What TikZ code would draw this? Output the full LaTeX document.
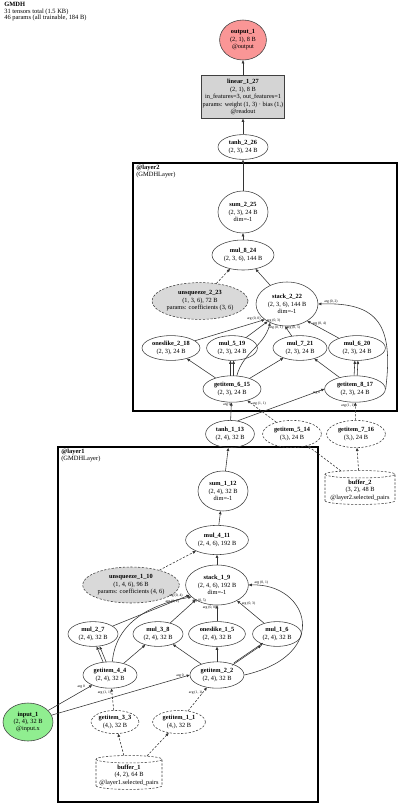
\documentclass[tikz,border=0pt]{standalone}
\usepackage{fontspec}
\setmainfont{Liberation Serif}
\usetikzlibrary{positioning, shapes.geometric, arrows.meta}

\begin{document}
\begin{tikzpicture}[on grid, node distance=1cm,
        >={Triangle[length=2.2pt,width=1.9pt]},
        font=\fontsize{4.5}{5.3}\selectfont,
        op/.style={ellipse, draw=black!75, thin, align=center, inner sep=0.4pt, minimum height=0.62cm},
        sel/.style={op, dash pattern=on 1.6pt off 1.1pt},
        coef/.style={op, dash pattern=on 1.6pt off 1.1pt, fill=black!15},
        buf/.style={cylinder, shape border rotate=90, aspect=0.12, draw=black!75, dash pattern=on 1.6pt off 1.1pt, align=center, inner sep=1pt},
        flow/.style={->, draw=black!80, thin},
        pflow/.style={flow, dash pattern=on 1.6pt off 1.1pt},
        arg/.style={font=\fontsize{2.6}{3}\selectfont, inner sep=0.3pt},
        layerbox/.style={draw, line width=1.5pt},
        caption/.style={anchor=north west, align=left, inner sep=0pt, font=\fontsize{4.6}{4.4}\selectfont}]
        \useasboundingbox (0,0) rectangle (10,-20.2);

        \node[caption] (title) at (0.1,-0.06)
            {\textbf{GMDH}\\31 tensors total (1.5 KB)\\46 params (all trainable, 184 B)};

        % layer boxes
        \draw[layerbox] (3.325,-4.075) rectangle (9.925,-10.275);
        \node[caption] (l2name) at (3.4,-4.13) {\textbf{@layer2}\\(GMDHLayer)};
        \draw[layerbox] (1.45,-11.175) rectangle (7.95,-20.05);
        \node[caption] (l1name) at (1.525,-11.23) {\textbf{@layer1}\\(GMDHLayer)};

        % top of graph
        \node[op, fill={rgb,255:red,250;green,150;blue,150}, minimum width=1.17cm, minimum height=1cm] (out) at (6.075,-1.0)
            {\textbf{output\_1}\\(2, 1), 8 B\\@output};
        \node[rectangle, draw=black!75, fill=black!17, align=center, minimum width=2.02cm, minimum height=1.07cm, inner sep=1pt,
            below=1.425 of out] (lin)
            {\textbf{linear\_1\_27}\\(2, 1), 8 B\\in\_features=3, out\_features=1\\params: weight (1, 3) · bias (1,)\\@readout};
        \node[op, minimum width=1.25cm, below=1.25 of lin] (tanh2) {\textbf{tanh\_2\_26}\\(2, 3), 24 B};

        % layer2
        \node[op, minimum width=1.25cm, minimum height=1.05cm, below=1.625 of tanh2] (sum2) {\textbf{sum\_2\_25}\\(2, 3), 24 B\\dim=-1};
        \node[op, minimum width=1.55cm, minimum height=0.75cm, below=1.075 of sum2] (mul8) {\textbf{mul\_8\_24}\\(2, 3, 6), 144 B};
        \node[coef, minimum width=2.4cm, minimum height=0.92cm, below left=1.15 and 1.075 of mul8] (unsq2)
            {\textbf{unsqueeze\_2\_23}\\(1, 3, 6), 72 B\\params: coefficients (3, 6)};
        \node[op, minimum width=1.55cm, minimum height=1.1cm, below right=1.225 and 1.1 of mul8] (stack2)
            {\textbf{stack\_2\_22}\\(2, 3, 6), 144 B\\dim=-1};
        \node[op, minimum width=1.27cm, below left=1.1 and 1.375 of stack2] (mul5) {\textbf{mul\_5\_19}\\(2, 3), 24 B};
        \node[op, minimum width=1.45cm, left=1.525 of mul5] (ones2) {\textbf{oneslike\_2\_18}\\(2, 3), 24 B};
        \node[op, minimum width=1.35cm, right=1.7 of mul5] (mul7) {\textbf{mul\_7\_21}\\(2, 3), 24 B};
        \node[op, minimum width=1.42cm, right=1.425 of mul7] (mul6) {\textbf{mul\_6\_20}\\(2, 3), 24 B};
        \node[op, minimum width=1.45cm, minimum height=0.66cm, below=1.025 of mul5] (gi6) {\textbf{getitem\_6\_15}\\(2, 3), 24 B};
        \node[op, minimum width=1.52cm, minimum height=0.66cm, right=3.075 of gi6] (gi8) {\textbf{getitem\_8\_17}\\(2, 3), 24 B};

        % between the layers
        \node[op, minimum width=1.22cm, minimum height=0.68cm, below left=1.125 and 0.05 of gi6] (tanh1) {\textbf{tanh\_1\_13}\\(2, 4), 32 B};
        \node[sel, minimum width=1.47cm, minimum height=0.68cm, right=1.55 of tanh1] (gi5) {\textbf{getitem\_5\_14}\\(3,), 24 B};
        \node[sel, minimum width=1.47cm, minimum height=0.68cm, right=1.6 of gi5] (gi7) {\textbf{getitem\_7\_16}\\(3,), 24 B};
        \node[buf, minimum width=1.75cm, minimum height=0.84cm, below right=1.4 and 0.1 of gi7] (buf2)
            {\textbf{buffer\_2}\\(3, 2), 48 B\\@layer2.selected\_pairs};

        % layer1
        \node[op, minimum width=1.25cm, minimum height=1cm, below left=1.425 and 0.175 of tanh1] (sum1) {\textbf{sum\_1\_12}\\(2, 4), 32 B\\dim=-1};
        \node[op, minimum width=1.57cm, minimum height=0.73cm, below left=1.225 and 0.15 of sum1] (mul4) {\textbf{mul\_4\_11}\\(2, 4, 6), 192 B};
        \node[op, minimum width=1.57cm, minimum height=1cm, below=1.125 of mul4] (stack1) {\textbf{stack\_1\_9}\\(2, 4, 6), 192 B\\dim=-1};
        \node[coef, minimum width=2.42cm, minimum height=0.9cm, left=2.15 of stack1] (unsq1)
            {\textbf{unsqueeze\_1\_10}\\(1, 4, 6), 96 B\\params: coefficients (4, 6)};
        \node[op, minimum width=1.42cm, below=1.225 of stack1] (ones1) {\textbf{oneslike\_1\_5}\\(2, 4), 32 B};
        \node[op, minimum width=1.25cm, left=1.475 of ones1] (mul3) {\textbf{mul\_3\_8}\\(2, 4), 32 B};
        \node[op, minimum width=1.25cm, left=1.625 of mul3] (mul2) {\textbf{mul\_2\_7}\\(2, 4), 32 B};
        \node[op, minimum width=1.22cm, right=1.5 of ones1] (mul1) {\textbf{mul\_1\_6}\\(2, 4), 32 B};
        \node[op, minimum width=1.35cm, minimum height=0.66cm, below=1.025 of ones1] (gi2) {\textbf{getitem\_2\_2}\\(2, 4), 32 B};
        \node[op, minimum width=1.35cm, minimum height=0.66cm, left=2.675 of gi2] (gi4) {\textbf{getitem\_4\_4}\\(2, 4), 32 B};
        \node[sel, minimum width=1.17cm, minimum height=0.58cm, below right=1.175 and 0.125 of gi4] (gi3) {\textbf{getitem\_3\_3}\\(4,), 32 B};
        \node[sel, minimum width=1.32cm, minimum height=0.58cm, right=1.6 of gi3] (gi1) {\textbf{getitem\_1\_1}\\(4,), 32 B};
        \node[op, fill={rgb,255:red,144;green,238;blue,144}, minimum width=1.25cm, minimum height=0.95cm, left=2.175 of gi3] (in1)
            {\textbf{input\_1}\\(2, 4), 32 B\\@input.x};
        \node[buf, minimum width=1.65cm, minimum height=0.84cm, below right=1.325 and 0.35 of gi3] (buf1)
            {\textbf{buffer\_1}\\(4, 2), 64 B\\@layer1.selected\_pairs};

        % top edges
        \draw[flow] (tanh2) -- (lin);
        \draw[flow] (lin) -- (out);
        \draw[flow] (sum2) -- (tanh2);
        \draw[flow] (mul8) -- (sum2);
        \draw[pflow] (unsq2) -- (mul8);
        \draw[flow] (stack2) -- (mul8);

        % layer2 edges
        \draw[flow] (ones2) -- (stack2.215) node[arg, pos=0.95, anchor=south east] {arg (0, 0)};
        \draw[flow] (gi6.70) to[out=75, in=-105] node[arg, pos=0.93, anchor=west] {arg (0, 1)} (stack2.228);
        \draw[flow] (gi8.east) .. controls +(0.2,1.6) and +(1.5,0.05) .. (stack2.east) node[arg, pos=0.97, above right] {arg (0, 2)};
        \draw[flow] (mul5) -- (stack2.222) node[arg, pos=0.93, anchor=south west] {arg (0, 3)};
        \draw[flow] (mul6) -- (stack2.-40) node[arg, pos=0.85, right] {arg (0, 4)};
        \draw[flow] (mul7) -- (stack2.-95) node[arg, pos=0.85, right] {arg (0, 5)};
        \draw[flow] (gi6) -- (ones2);
        \draw[flow, transform canvas={xshift=-1.1pt}] (gi6) -- (mul5);
        \draw[flow, transform canvas={xshift=1.1pt}] (gi6) -- (mul5);
        \draw[flow] (gi6) -- (mul7);
        \draw[flow] (gi8) -- (mul7);
        \draw[flow, transform canvas={xshift=-1.1pt}] (gi8) -- (mul6);
        \draw[flow, transform canvas={xshift=1.1pt}] (gi8) -- (mul6);

        % into layer2
        \draw[flow] (tanh1) -- (gi6) node[arg, pos=0.85, left] {arg 0};
        \draw[flow] (tanh1.60) -- (gi8.west) node[arg, pos=0.96, below left] {arg 0};
        \draw[pflow] (gi5) -- (gi6) node[arg, pos=0.85, right] {arg (1, 1)};
        \draw[pflow] (gi7) -- (gi8) node[arg, pos=0.85, left] {arg (1, 1)};
        \draw[pflow] (buf2.north west) -- (gi5);
        \draw[pflow] (buf2) -- (gi7);
        \draw[flow] (sum1) -- (tanh1);

        % layer1 edges
        \draw[flow] (mul4) -- (sum1);
        \draw[flow] (stack1) -- (mul4);
        \draw[pflow] (unsq1) -- (mul4);
        \draw[flow] (ones1) -- (stack1) node[arg, pos=0.85, left] {arg (0, 0)};
        \draw[flow] (gi2.east) .. controls +(2.2,0.5) and +(1.5,0.05) .. (stack1.east) node[arg, pos=0.97, above right] {arg (0, 1)};
        \draw[flow] (gi4.80) to[out=85, in=190] node[arg, pos=0.9, below left] {arg (0, 2)} (stack1.205);
        \draw[flow] (mul1) -- (stack1.-38) node[arg, pos=0.85, right] {arg (0, 3)};
        \draw[flow] (mul2) -- (stack1.200) node[arg, pos=0.92, above left] {arg (0, 4)};
        \draw[flow] (mul3) -- (stack1.215) node[arg, pos=0.85, above right] {arg (0, 5)};
        \draw[flow] (gi2) -- (ones1);
        \draw[flow, transform canvas={shift={(-0.7pt,-0.9pt)}}] (gi2) -- (mul1);
        \draw[flow, transform canvas={shift={(0.7pt,0.9pt)}}] (gi2) -- (mul1);
        \draw[flow] (gi2) -- (mul3);
        \draw[flow] (gi4) -- (mul3);
        \draw[flow, transform canvas={xshift=-1.1pt}] (gi4) -- (mul2);
        \draw[flow, transform canvas={xshift=1.1pt}] (gi4) -- (mul2);

        % into layer1
        \draw[flow] (in1) -- (gi4) node[arg, pos=0.85, above left] {arg 0};
        \draw[flow] (in1) -- (gi2.west) node[arg, pos=0.93, above] {arg 0};
        \draw[pflow] (gi3) -- (gi4) node[arg, pos=0.8, left] {arg (1, 1)};
        \draw[pflow] (gi1) -- (gi2) node[arg, pos=0.8, left] {arg (1, 1)};
        \draw[pflow] (buf1) -- (gi3);
        \draw[pflow] (buf1) -- (gi1);
\end{tikzpicture}
\end{document}
